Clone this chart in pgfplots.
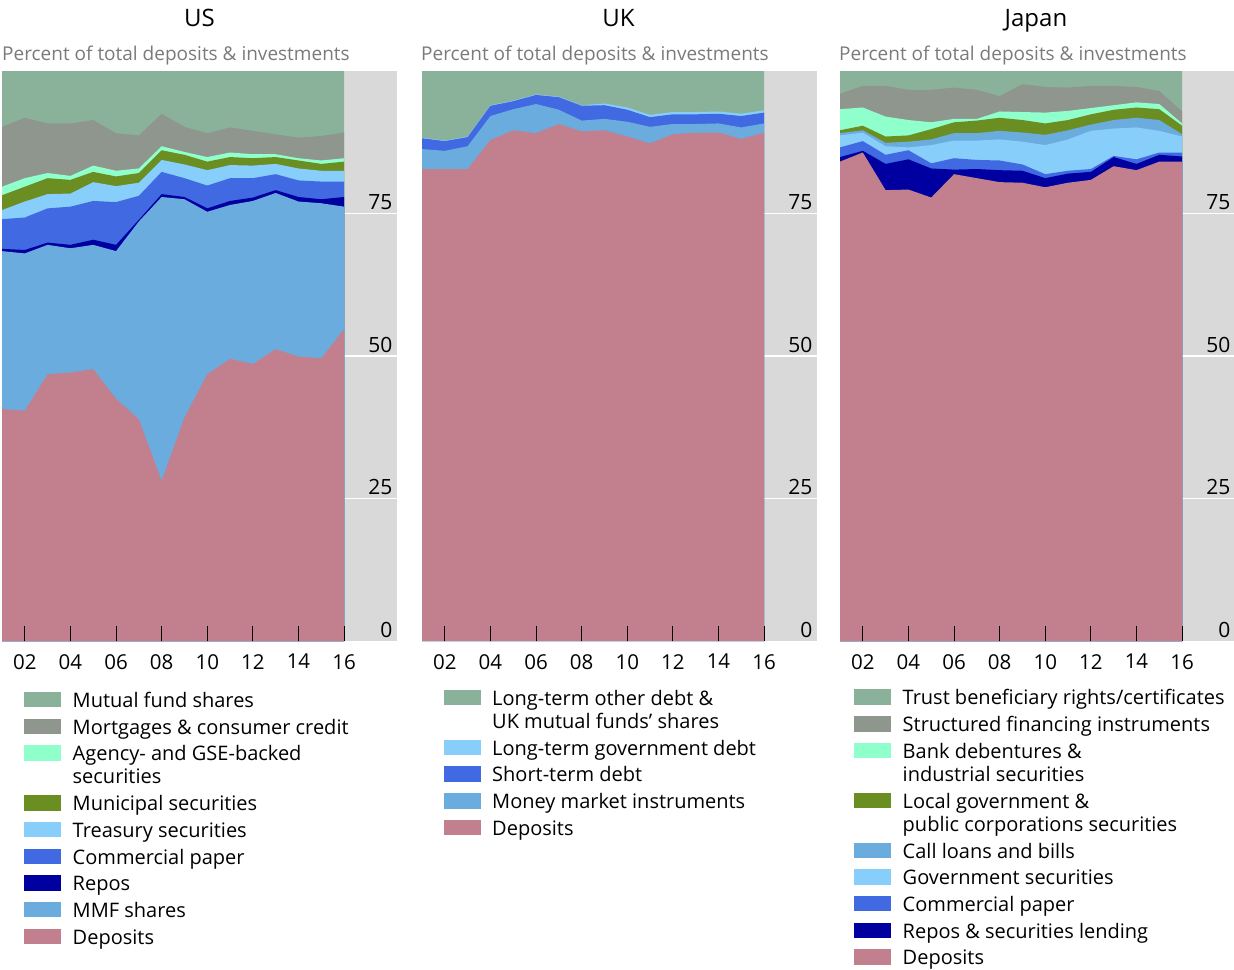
\documentclass[border=0pt]{standalone}
\usepackage{fontspec}
\setmainfont{Open Sans}
\usepackage{pgfplots}
\usepackage{pgfplotstable}
\pgfplotsset{compat=1.18}

\definecolor{cDep}{HTML}{C27F8D}
\definecolor{cMMF}{HTML}{6AACDE}
\definecolor{cRepo}{HTML}{0000A0}
\definecolor{cCP}{HTML}{4169E1}
\definecolor{cTreas}{HTML}{87CEFA}
\definecolor{cMuni}{HTML}{6B8E23}
\definecolor{cAgency}{HTML}{8FFFCC}
\definecolor{cMort}{HTML}{8F968E}
\definecolor{cMF}{HTML}{8AB29A}
\definecolor{cBand}{HTML}{D9D9D9}
\definecolor{cSub}{HTML}{7A7A7A}

% second line of a two-line legend entry
\newcommand\cont[1]{\addlegendimage{empty legend}\addlegendentry[text height=12.6pt]{#1}}

% cumulative tops of each layer, percent
\pgfplotstableread{
year mf  mort agency muni treas cp   repo mmf  dep
2001 100 90.2 79.7 78.2 75.6 74.0 68.8 68.4 40.7
2002 100 91.8 81.2 79.7 77.1 74.3 68.6 68.0 40.4
2003 100 90.8 82.1 81.2 78.4 75.9 69.9 69.5 46.8
2004 100 90.8 81.6 80.9 78.5 76.2 69.5 68.9 47.1
2005 100 91.4 83.4 82.3 80.5 77.2 70.4 69.5 47.7
2006 100 89.1 82.5 81.5 79.8 77.0 69.5 68.4 42.5
2007 100 88.7 82.9 82.1 80.4 78.1 73.9 73.6 38.9
2008 100 92.5 86.8 86.1 84.4 82.3 78.4 77.9 28.1
2009 100 90.2 85.8 85.3 83.6 81.2 77.9 77.5 39.2
2010 100 89.1 84.9 84.1 82.6 79.9 75.9 75.3 46.8
2011 100 90.1 85.7 84.9 83.5 81.2 77.2 76.5 49.5
2012 100 89.5 85.4 84.7 83.4 81.2 77.8 77.2 48.6
2013 100 88.9 85.4 84.9 83.7 81.9 79.1 78.6 51.2
2014 100 88.3 84.7 84.3 82.9 80.8 77.9 77.1 49.9
2015 100 88.6 84.3 83.7 82.5 80.6 77.5 76.8 49.6
2016 100 89.2 84.7 84.1 82.5 80.6 77.9 76.2 54.7
}\us

\pgfplotstableread{
year other ltgov st   mmi  dep
2001 100   88.3  88.2 86.3 82.8
2002 100   87.8  87.7 86.0 82.8
2003 100   88.5  88.4 86.8 82.8
2004 100   94.0  93.9 92.1 87.9
2005 100   94.8  94.7 93.3 89.6
2006 100   95.9  95.8 94.2 89.1
2007 100   95.5  95.4 93.2 90.7
2008 100   94.0  93.9 91.3 89.4
2009 100   94.3  94.0 91.6 89.6
2010 100   93.6  93.2 91.1 88.5
2011 100   92.3  91.9 90.2 87.3
2012 100   92.8  92.4 90.7 88.9
2013 100   92.8  92.4 90.7 89.2
2014 100   92.9  92.5 90.8 89.2
2015 100   92.5  92.1 90.1 88.1
2016 100   93.1  92.7 90.8 89.2
}\uk

\pgfplotstableread{
year trust struct bank local call gov  cp   repo dep
2001 100   96.0   93.3 89.6  89.1 88.7 86.6 84.9 84.1
2002 100   97.4   93.6 90.4  89.6 89.2 87.7 86.0 85.7
2003 100   97.4   92.0 88.5  87.4 86.8 85.3 83.7 79.1
2004 100   96.7   91.4 88.7  87.6 86.6 86.1 84.5 79.2
2005 100   96.7   91.0 89.8  88.0 87.0 83.8 82.9 77.8
2006 100   97.1   91.6 91.0  89.1 87.8 84.7 82.7 81.9
2007 100   96.7   91.6 91.3  89.1 87.8 84.4 82.8 81.2
2008 100   95.6   92.9 91.8  89.5 88.0 84.3 82.6 80.5
2009 100   97.7   92.8 91.4  89.2 87.6 83.6 82.5 80.4
2010 100   97.2   92.7 90.8  88.8 87.0 81.9 81.2 79.6
2011 100   97.1   93.0 91.4  89.6 88.0 82.5 82.0 80.4
2012 100   97.4   93.5 92.4  90.6 89.5 82.8 82.3 80.9
2013 100   97.4   94.0 93.2  91.4 89.9 85.1 84.9 83.3
2014 100   97.2   94.5 93.6  91.8 90.1 84.5 83.7 82.6
2015 100   96.5   94.2 93.3  91.4 89.5 85.7 85.3 84.1
2016 100   92.9   90.8 90.4  88.9 88.5 85.7 85.0 84.1
}\jp

\pgfplotsset{
  panel/.style={
    scale only axis, width=395pt, height=570pt, anchor=north west,
    xmin=2001, xmax=2018.32, ymin=0, ymax=100,
    axis line style={draw=none}, axis on top,
    xtick={2002,2004,...,2016}, xticklabels={02,04,06,08,10,12,14,16},
    xtick pos=bottom, tick align=inside, major tick length=15pt,
    xtick style={black, line width=1pt},
    xticklabel style={inner sep=0pt, anchor=north, yshift=-13pt, font=\fontsize{20.5}{24}\selectfont},
    ytick={0,25,50,75}, ytick pos=right, yticklabel pos=right,
    ytick style={draw=none},
    yticklabel style={inner sep=0pt, anchor=base east, xshift=-4.5pt, yshift=4pt, font=\fontsize{21}{25}\selectfont},
    /pgf/number format/assume math mode=true,
    legend style={at={(0,0)}, anchor=north west, draw=none, fill=none,
      inner sep=0pt, row sep=5.1pt, column sep=9.5pt,
      font=\fontsize{20}{23}\selectfont,
      cells={anchor=base west, inner sep=0pt, text height=16.1pt, text depth=6.9pt}},
    legend image code/.code={\fill[##1] (0pt,0pt) rectangle (37pt,15.5pt);},
  },
  band/.style={fill=cBand, draw=none, forget plot},
  wl/.style={white, line width=1.5pt, forget plot},
}

\begin{document}
\begin{tikzpicture}
\path[use as bounding box] (0,0) rectangle (1234pt,-969pt);

\begin{axis}[panel, at={(2pt,-71pt)}, legend style={xshift=22pt, yshift=-48pt}]
\addplot[band] coordinates {(2016,100) (2018.32,100)} \closedcycle;
\addplot[wl] coordinates {(2016,25) (2018.32,25)};
\addplot[wl] coordinates {(2016,50) (2018.32,50)};
\addplot[wl] coordinates {(2016,75) (2018.32,75)};
\addplot[fill=cMF, draw=none] table[x=year, y=mf] {\us} \closedcycle;
\addlegendentry{Mutual fund shares}
\addplot[fill=cMort, draw=none] table[x=year, y=mort] {\us} \closedcycle;
\addlegendentry{Mortgages \& consumer credit}
\addplot[fill=cAgency, draw=none] table[x=year, y=agency] {\us} \closedcycle;
\addlegendentry{Agency- and GSE-backed}
\cont{securities}
\addplot[fill=cMuni, draw=none] table[x=year, y=muni] {\us} \closedcycle;
\addlegendentry{Municipal securities}
\addplot[fill=cTreas, draw=none] table[x=year, y=treas] {\us} \closedcycle;
\addlegendentry{Treasury securities}
\addplot[fill=cCP, draw=none] table[x=year, y=cp] {\us} \closedcycle;
\addlegendentry{Commercial paper}
\addplot[fill=cRepo, draw=none] table[x=year, y=repo] {\us} \closedcycle;
\addlegendentry{Repos}
\addplot[fill=cMMF, draw=none] table[x=year, y=mmf] {\us} \closedcycle;
\addlegendentry{MMF shares}
\addplot[fill=cDep, draw=none] table[x=year, y=dep] {\us} \closedcycle;
\addlegendentry{Deposits}
\end{axis}

\begin{axis}[panel, at={(422pt,-71pt)}, legend style={xshift=21.5pt, yshift=-46pt}]
\addplot[band] coordinates {(2016,100) (2018.32,100)} \closedcycle;
\addplot[wl] coordinates {(2016,25) (2018.32,25)};
\addplot[wl] coordinates {(2016,50) (2018.32,50)};
\addplot[wl] coordinates {(2016,75) (2018.32,75)};
\addplot[fill=cMF, draw=none] table[x=year, y=other] {\uk} \closedcycle;
\addlegendentry{Long-term other debt \&}
\cont{UK mutual funds' shares}
\addplot[fill=cTreas, draw=none] table[x=year, y=ltgov] {\uk} \closedcycle;
\addlegendentry{Long-term government debt}
\addplot[fill=cCP, draw=none] table[x=year, y=st] {\uk} \closedcycle;
\addlegendentry{Short-term debt}
\addplot[fill=cMMF, draw=none] table[x=year, y=mmi] {\uk} \closedcycle;
\addlegendentry{Money market instruments}
\addplot[fill=cDep, draw=none] table[x=year, y=dep] {\uk} \closedcycle;
\addlegendentry{Deposits}
\end{axis}

\begin{axis}[panel, at={(840pt,-71pt)}, legend style={xshift=14pt, yshift=-45.5pt}]
\addplot[band] coordinates {(2016,100) (2018.32,100)} \closedcycle;
\addplot[wl] coordinates {(2016,25) (2018.32,25)};
\addplot[wl] coordinates {(2016,50) (2018.32,50)};
\addplot[wl] coordinates {(2016,75) (2018.32,75)};
\addplot[fill=cMF, draw=none] table[x=year, y=trust] {\jp} \closedcycle;
\addlegendentry{Trust beneficiary rights/certificates}
\addplot[fill=cMort, draw=none] table[x=year, y=struct] {\jp} \closedcycle;
\addlegendentry{Structured financing instruments}
\addplot[fill=cAgency, draw=none] table[x=year, y=bank] {\jp} \closedcycle;
\addlegendentry{Bank debentures \&}
\cont{industrial securities}
\addplot[fill=cMuni, draw=none] table[x=year, y=local] {\jp} \closedcycle;
\addlegendentry{Local government \&}
\cont{public corporations securities}
\addplot[fill=cMMF, draw=none] table[x=year, y=call] {\jp} \closedcycle;
\addlegendentry{Call loans and bills}
\addplot[fill=cTreas, draw=none] table[x=year, y=gov] {\jp} \closedcycle;
\addlegendentry{Government securities}
\addplot[fill=cCP, draw=none] table[x=year, y=cp] {\jp} \closedcycle;
\addlegendentry{Commercial paper}
\addplot[fill=cRepo, draw=none] table[x=year, y=repo] {\jp} \closedcycle;
\addlegendentry{Repos \& securities lending}
\addplot[fill=cDep, draw=none] table[x=year, y=dep] {\jp} \closedcycle;
\addlegendentry{Deposits}
\end{axis}

\begin{scope}[font=\fontsize{24}{28}\selectfont]
\node[anchor=base] at (199.5pt,-26.7pt) {US};
\node[anchor=base] at (618.5pt,-26.7pt) {UK};
\node[anchor=base] at (1036pt,-26.7pt) {Japan};
\end{scope}
\begin{scope}[font=\fontsize{19}{22}\selectfont, text=cSub]
\node[anchor=base west, inner sep=0pt] at (2pt,-60.7pt) {Percent of total deposits \& investments};
\node[anchor=base west, inner sep=0pt] at (421pt,-60.7pt) {Percent of total deposits \& investments};
\node[anchor=base west, inner sep=0pt] at (839pt,-60.7pt) {Percent of total deposits \& investments};
\end{scope}
\end{tikzpicture}
\end{document}
